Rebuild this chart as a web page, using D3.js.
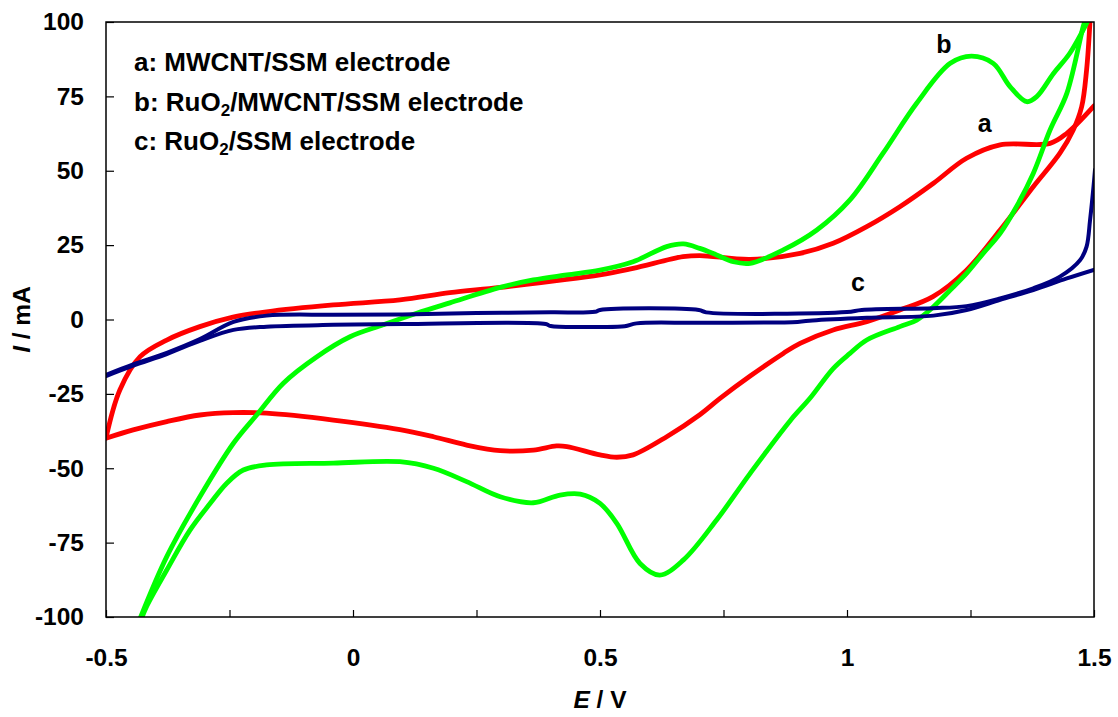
<!DOCTYPE html>
<html>
<head>
<meta charset="utf-8">
<script src="https://cdn.jsdelivr.net/npm/d3@7"></script>
<style>
  body { margin: 0; background: #fff; }
  svg { font-family: Arial, "Liberation Sans", sans-serif; font-weight: bold; }
</style>
</head>
<body>
<svg width="1118" height="717"></svg>
<script>
// cyclic voltammograms, [E (V), I (mA)]
// each curve is split at the +1.5 V vertex (the vertex itself runs off the chart)
const redForward = [[-0.5,-39.8],[-0.472,-23.7],[-0.431,-12.5],[-0.377,-6.9],[-0.31,-2.4],[-0.243,0.8],[-0.175,2.6],[-0.04,4.9],[0.095,6.6],[0.196,9.0],[0.298,10.8],[0.5,15],[0.567,17.2],[0.668,21.1],[0.702,21.5],[0.804,20.2],[0.905,22.2],[0.972,25.6],[1.04,31.2],[1.107,37.9],[1.175,45.8],[1.242,54.2],[1.31,58.7],[1.411,59.2],[1.445,62.6],[1.5,71.8]];
const redReverse = [[1.492,100.5],[1.485,83.9],[1.475,71.5],[1.458,63.7],[1.431,55.9],[1.377,44.6],[1.31,30.1],[1.242,16.6],[1.174,7.7],[1.107,3.2],[1.04,-0.7],[0.972,-3.5],[0.905,-8],[0.871,-11.4],[0.804,-19],[0.743,-26.5],[0.702,-32],[0.635,-39.4],[0.567,-45.5],[0.534,-46.3],[0.5,-45.5],[0.433,-42.7],[0.412,-42.5],[0.365,-43.9],[0.298,-44.1],[0.23,-42.2],[0.163,-39.4],[0.095,-37],[-0.04,-33.8],[-0.175,-31.5],[-0.242,-31.3],[-0.31,-32.1],[-0.377,-34.3],[-0.445,-37.1],[-0.5,-39.9]];

const greenForward = [[-0.431,-100.5],[-0.377,-79.7],[-0.31,-59.6],[-0.242,-41.6],[-0.195,-32.1],[-0.141,-21.4],[-0.073,-12.5],[-0.006,-5.8],[0.061,-1.8],[0.129,2.1],[0.196,5.6],[0.298,10.8],[0.365,13.3],[0.433,15],[0.5,16.6],[0.567,19.4],[0.635,24.5],[0.669,25.4],[0.702,23.9],[0.736,21.7],[0.77,19.4],[0.804,18.9],[0.871,23.4],[0.939,30.1],[1.006,40.2],[1.073,55.9],[1.141,72.7],[1.209,86.1],[1.252,88.5],[1.296,86.1],[1.33,78.3],[1.364,73.2],[1.384,74.9],[1.418,82.7],[1.451,89.5],[1.488,100.5]];
const greenReverse = [[1.482,100.5],[1.478,98.4],[1.445,76],[1.411,63.7],[1.377,49.1],[1.343,37.9],[1.31,29],[1.276,22.3],[1.242,15.5],[1.209,9.9],[1.175,4.3],[1.141,-0.2],[1.107,-2.4],[1.04,-6.9],[1.006,-11.4],[0.972,-16.5],[0.925,-26.5],[0.885,-34],[0.804,-51.7],[0.736,-67.4],[0.669,-80.8],[0.621,-85.9],[0.581,-82],[0.534,-68.5],[0.5,-61.8],[0.46,-58.7],[0.419,-59],[0.365,-61.6],[0.298,-59.6],[0.23,-54.5],[0.163,-50],[0.095,-47.8],[-0.04,-48.3],[-0.175,-48.9],[-0.222,-50.6],[-0.256,-55.1],[-0.289,-61.8],[-0.33,-70.8],[-0.377,-84.2],[-0.418,-96.5],[-0.428,-100.5]];

const blueForward = [[-0.5,-18.6],[-0.445,-15.1],[-0.377,-11.2],[-0.31,-6.6],[-0.242,-0.8],[-0.175,1.3],[-0.04,1.6],[0.1,1.7],[0.25,2.2],[0.4,2.4],[0.49,2.6],[0.5,3.2],[0.7,3.2],[0.715,2.4],[1.0,2.5],[1.03,3.2],[1.174,3.8],[1.242,4.5],[1.31,7.1],[1.377,10.5],[1.431,14.4],[1.472,20],[1.485,24.5],[1.492,33.4],[1.499,44.6],[1.502,50.3]];
const blueReverse = [[1.502,16.8],[1.445,13.8],[1.377,9.9],[1.31,6.6],[1.242,3.2],[1.175,1.3],[1.04,0.6],[0.93,-0.3],[0.9,-0.8],[0.7,-1.1],[0.574,-1.3],[0.55,-2.3],[0.486,-2.5],[0.4,-2.2],[0.39,-1.5],[0.1,-1.5],[-0.04,-1.8],[-0.175,-2.4],[-0.242,-3.5],[-0.31,-7.2],[-0.377,-11.6],[-0.445,-15.5],[-0.5,-19]];

const xTicks = d3.range(-0.5, 1.5001, 0.25);
const xLabels = [-0.5, 0, 0.5, 1, 1.5];
const yTicks = d3.range(-100, 100.001, 25);

const legendLines = [["a: MWCNT/SSM electrode"], ["b: RuO", "2", "/MWCNT/SSM electrode"], ["c: RuO", "2", "/SSM electrode"]];
const curveTags = [{t: "a", e: 1.279, i: 63}, {t: "b", e: 1.196, i: 89.6}, {t: "c", e: 1.022, i: 9.6}];

const svg = d3.select("svg");
const mLeft = 106, mRight = 1094, mTop = 22, mBottom = 617;

const x = d3.scaleLinear().domain([-0.5, 1.5]).range([mLeft, mRight]);
const y = d3.scaleLinear().domain([-100, 100]).range([mBottom, mTop]);

svg.append("clipPath").attr("id", "plot")
   .append("rect")
   .attr("x", mLeft).attr("y", mTop)
   .attr("width", mRight - mLeft).attr("height", mBottom - mTop);

// axes: inward ticks, no domain line (frame drawn below)
const xAxis = svg.append("g")
   .attr("transform", `translate(0,${mBottom})`)
   .call(d3.axisBottom(x).tickValues(xTicks).tickSizeInner(-7).tickSizeOuter(0).tickPadding(32)
           .tickFormat(d => xLabels.includes(d) ? String(d) : ""));
const yAxis = svg.append("g")
   .attr("transform", `translate(${mLeft},0)`)
   .call(d3.axisLeft(y).tickValues(yTicks).tickSizeInner(-8).tickSizeOuter(0).tickPadding(22)
           .tickFormat(d => String(d)));

[xAxis, yAxis].forEach(g => {
  g.select(".domain").remove();
  g.selectAll(".tick line").attr("stroke", "#000").attr("stroke-width", 1.2);
  g.selectAll(".tick text").attr("fill", "#000").style("font-size", "24.5px").style("font-family", "Arial, 'Liberation Sans', sans-serif").style("font-weight", "bold");
});

const line = d3.line().x(d => x(d[0])).y(d => y(d[1])).curve(d3.curveCatmullRom.alpha(0.5));

const curves = [
  {data: redForward, color: "#ff0000", w: 4.8},
  {data: redReverse, color: "#ff0000", w: 4.8},
  {data: greenForward, color: "#00ff00", w: 4.8},
  {data: greenReverse, color: "#00ff00", w: 4.8},
  {data: blueForward, color: "#000080", w: 4},
  {data: blueReverse, color: "#000080", w: 4}
];

svg.append("g").attr("clip-path", "url(#plot)")
   .selectAll("path")
   .data(curves)
   .enter()
   .append("path")
   .attr("d", d => line(d.data))
   .attr("fill", "none")
   .attr("stroke", d => d.color)
   .attr("stroke-width", d => d.w)
   .attr("stroke-linejoin", "round")
   .attr("stroke-linecap", "round");

// plot frame
svg.append("rect")
   .attr("x", mLeft).attr("y", mTop)
   .attr("width", mRight - mLeft).attr("height", mBottom - mTop)
   .attr("fill", "none").attr("stroke", "#000").attr("stroke-width", 1.5);

// legend text
const legend = svg.append("g").style("font-size", "26px");
legendLines.forEach((parts, k) => {
  const t = legend.append("text").attr("x", 134).attr("y", 71 + k * 39.5);
  parts.forEach((p, j) => {
    if (j === 1) t.append("tspan").text(p).style("font-size", "17px").attr("dy", 5);
    else t.append("tspan").text(p).attr("dy", j === 2 ? -5 : 0);
  });
});

// curve letters
svg.append("g").selectAll("text")
   .data(curveTags)
   .enter()
   .append("text")
   .attr("x", d => x(d.e)).attr("y", d => y(d.i))
   .attr("text-anchor", "middle")
   .style("font-size", "25px")
   .text(d => d.t);

// axis titles
const yt = svg.append("text")
   .attr("transform", `translate(30,${(mTop + mBottom) / 2}) rotate(-90)`)
   .attr("text-anchor", "middle")
   .style("font-size", "24.5px");
yt.append("tspan").text("I").style("font-style", "italic");
yt.append("tspan").text(" / mA");

const xt = svg.append("text")
   .attr("x", (mLeft + mRight) / 2).attr("y", 708)
   .attr("text-anchor", "middle")
   .style("font-size", "24.5px");
xt.append("tspan").text("E").style("font-style", "italic");
xt.append("tspan").text(" / V");
</script>
</body>
</html>
